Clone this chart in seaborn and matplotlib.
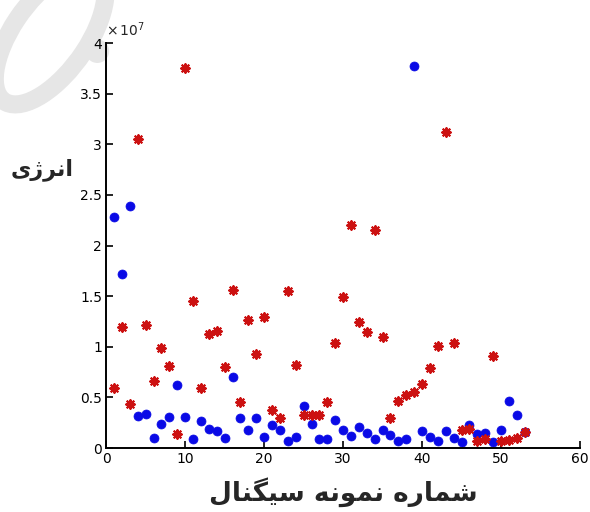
import numpy as np
import pandas as pd
import matplotlib
matplotlib.use("Agg")
import matplotlib.pyplot as plt
import seaborn as sns
from matplotlib.patches import Ellipse

# ---- data (energy in units of 1e7) ----
sample_idx = list(range(1, 54))
blue_vals = [2.28, 1.72, 2.39, 0.32, 0.34, 0.10, 0.24, 0.31, 0.62, 0.31,
             0.09, 0.27, 0.19, 0.17, 0.10, 0.70, 0.30, 0.18, 0.30, 0.11,
             0.23, 0.18, 0.07, 0.11, 0.41, 0.24, 0.09, 0.09, 0.28, 0.18,
             0.12, 0.21, 0.15, 0.09, 0.18, 0.13, 0.07, 0.09, 3.77, 0.17,
             0.11, 0.07, 0.17, 0.10, 0.06, 0.23, 0.14, 0.15, 0.06, 0.18,
             0.46, 0.33, 0.16]
red_vals = [0.59, 1.20, 0.43, 3.05, 1.21, 0.66, 0.99, 0.81, 0.14, 3.75,
            1.45, 0.59, 1.13, 1.16, 0.80, 1.56, 0.45, 1.26, 0.93, 1.29,
            0.38, 0.30, 1.55, 0.82, 0.33, 0.33, 0.33, 0.45, 1.04, 1.49,
            2.20, 1.24, 1.15, 2.15, 1.10, 0.30, 0.46, 0.52, 0.55, 0.63,
            0.79, 1.01, 3.12, 1.04, 0.18, 0.19, 0.07, 0.09, 0.91, 0.07,
            0.08, 0.10, 0.16]
x_ticks = [0, 10, 20, 30, 40, 50, 60]
y_ticks = [0, 0.5, 1, 1.5, 2, 2.5, 3, 3.5, 4]
y_tick_labels = ["0", "0.5", "1", "1.5", "2", "2.5", "3", "3.5", "4"]
scale = 1e7

# Persian labels in presentation forms (visual order)
y_label = "\uFBFC\uFB8A\uFEAE\uFEE7\uFE8D"  # انرژی
x_label = ("\uFEDD\uFE8E\uFEE8\uFB95\uFBFF\uFEB3" + " " +
           "\uFEEA\uFEE7\uFEEE\uFEE4\uFEE7" + " " +
           "\uFEE9\uFEAD\uFE8E\uFEE4\uFEB7")  # شماره نمونه سیگنال

df_blue = pd.DataFrame({"x": sample_idx, "y": np.array(blue_vals) * scale})
df_red = pd.DataFrame({"x": sample_idx, "y": np.array(red_vals) * scale})

sns.set_style("white")
plt.rcParams["font.family"] = ["DejaVu Sans"]

fig = plt.figure(figsize=(5.9, 5.12), dpi=100)
ax = fig.add_axes([0.18, 0.125, 0.803, 0.791])

# watermark-like light gray shape
fig.add_artist(Ellipse((0.085, 0.93), 0.13, 0.30, angle=-30, fill=False,
                       lw=13, ec="#e6e6e6", transform=fig.transFigure, zorder=0))
fig.add_artist(Ellipse((0.165, 0.9), 0.04, 0.046, fc="#e6e6e6", ec="none",
                       transform=fig.transFigure, zorder=0))

sns.scatterplot(data=df_red, x="x", y="y", ax=ax, marker=(8, 2, 0), s=38,
                color="#cc1111", linewidth=1.5, edgecolor="#cc1111", zorder=3)
sns.scatterplot(data=df_blue, x="x", y="y", ax=ax, marker="o", s=42,
                color="#0a0ae6", edgecolor="#0a0ae6", linewidth=0.5, zorder=2)

ax.set_xlim(0, 60)
ax.set_ylim(0, 4 * scale)
ax.set_xticks(x_ticks)
ax.set_xticklabels([str(t) for t in x_ticks])
ax.set_yticks([v * scale for v in y_ticks])
ax.set_yticklabels(y_tick_labels)
ax.tick_params(direction="in", length=5, width=1.2, labelsize=10,
               colors="black", left=True, bottom=True, pad=3)
ax.patch.set_alpha(0)
for side in ["top", "right"]:
    ax.spines[side].set_visible(False)
for side in ["left", "bottom"]:
    ax.spines[side].set_linewidth(1.4)
    ax.spines[side].set_color("black")

ax.set_xlabel(x_label, fontsize=19, fontweight="bold", labelpad=8)
ax.set_ylabel("")
fig.text(42 / 590, 1 - 170 / 512, y_label, fontsize=16, fontweight="bold",
         ha="center", va="center")
ax.text(0.0, 1.01, r"$\times\,10^{7}$", transform=ax.transAxes,
        fontsize=10, ha="left", va="bottom")

fig.savefig("out.png", dpi=100)
